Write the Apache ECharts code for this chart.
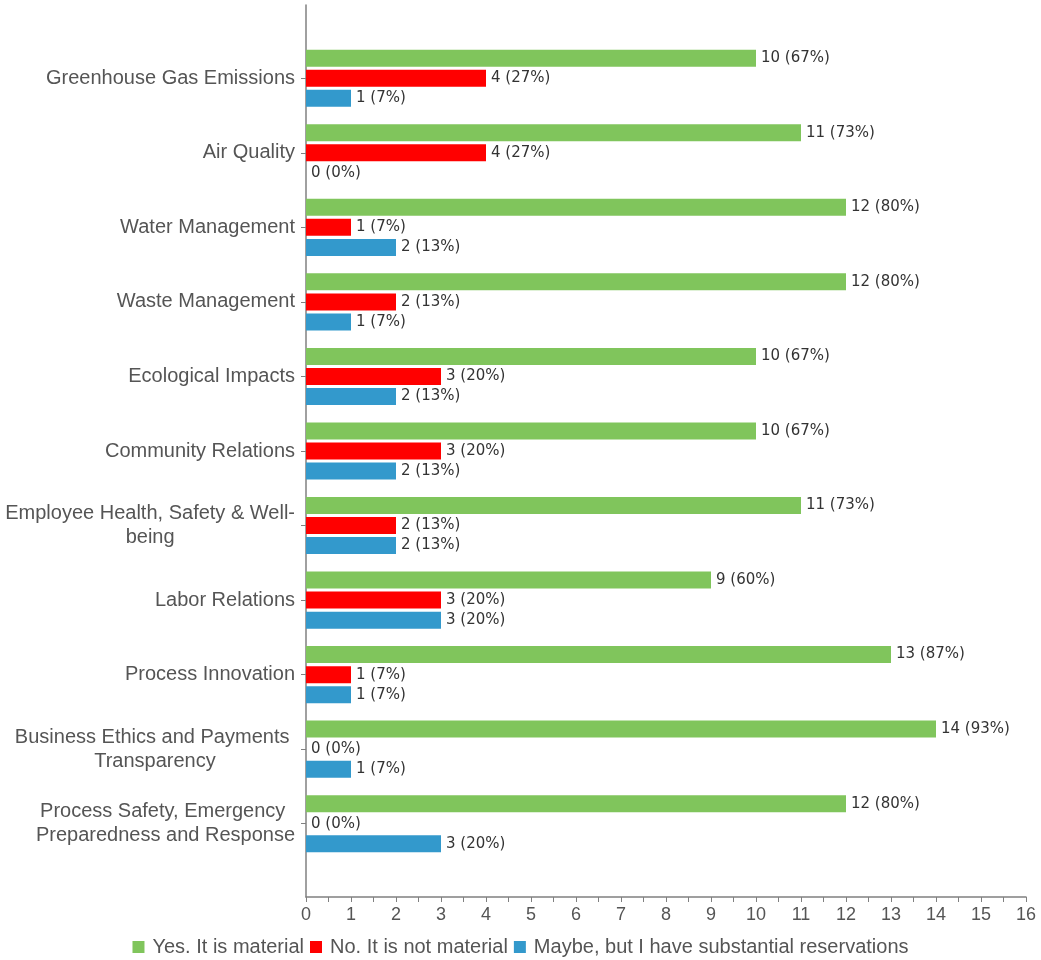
<!DOCTYPE html>
<html>
<head>
<meta charset="utf-8">
<script src="https://cdn.jsdelivr.net/npm/echarts@6/dist/echarts.min.js"></script>
<style>
html,body{margin:0;padding:0;background:#fff;}
#chart{width:1041px;height:960px;}
</style>
</head>
<body>
<div id="chart"></div>
<script>
const categories = [
  'Greenhouse Gas Emissions',
  'Air Quality',
  'Water Management',
  'Waste Management',
  'Ecological Impacts',
  'Community Relations',
  'Employee Health, Safety & Well-\nbeing',
  'Labor Relations',
  'Process Innovation',
  'Business Ethics and Payments \nTransparency',
  'Process Safety, Emergency \nPreparedness and Response'
];
const seriesNames = ['Yes. It is material', 'No. It is not material', 'Maybe, but I have substantial reservations'];
const yesValues   = [10, 11, 12, 12, 10, 10, 11, 9, 13, 14, 12];
const noValues    = [4, 4, 1, 2, 3, 3, 2, 3, 1, 0, 0];
const maybeValues = [1, 0, 2, 1, 2, 2, 2, 3, 1, 1, 3];
const respondents = 15;
const xMin = 0, xMax = 16, xStep = 1;
const colors = ['#80c55c', '#ff0000', '#3399cc'];

const chart = echarts.init(document.getElementById('chart'));
const sans = "'Liberation Sans', Arial, sans-serif";
const labelFont = "'DejaVu Sans', Verdana, sans-serif";

function makeSeries(name, data, color) {
  return {
    name: name,
    type: 'bar',
    xAxisIndex: 0,
    yAxisIndex: 0,
    data: data,
    barWidth: 17,
    barGap: '18%',
    itemStyle: { color: color },
    label: {
      show: true,
      position: 'right',
      distance: 5,
      fontFamily: labelFont,
      fontSize: 15,
      color: '#333',
      formatter: p => p.value + ' (' + Math.round(p.value / respondents * 100) + '%)'
    },
    emphasis: { disabled: true }
  };
}

const option = {
  animation: false,
  color: colors,
  grid: [
    { left: 306, right: 15, top: 41, bottom: 99, containLabel: false },
    { left: 306, right: 15, top: 5, bottom: 63, containLabel: false }
  ],
  xAxis: [
    { gridIndex: 0, type: 'value', min: xMin, max: xMax, interval: xStep, show: false },
    {
      gridIndex: 1, type: 'value', min: xMin, max: xMax, interval: xStep,
      axisLine: { show: true, lineStyle: { color: '#808080', width: 1.5 } },
      axisTick: { show: true, length: 5, lineStyle: { color: '#808080' } },
      minorTick: { show: true, splitNumber: 2, length: 5, lineStyle: { color: '#808080' } },
      splitLine: { show: false },
      axisLabel: { fontFamily: sans, fontSize: 18, color: '#555', margin: 9 }
    }
  ],
  yAxis: [
    {
      gridIndex: 0, type: 'category', data: categories, inverse: true,
      axisLine: { show: false },
      axisTick: { show: true, alignWithLabel: true, length: 5, lineStyle: { color: '#808080' } },
      axisLabel: {
        margin: 11,
        fontFamily: sans, fontSize: 20, color: '#555', lineHeight: 24,
        formatter: v => v.split('\n').map(s => '{c|' + s + '}').join('\n'),
        rich: { c: { align: 'center', fontFamily: sans, fontSize: 20, color: '#555', lineHeight: 24 } }
      }
    },
    {
      gridIndex: 1, type: 'value', min: 0, max: 1,
      axisLine: { show: true, lineStyle: { color: '#808080', width: 1.5 } },
      axisTick: { show: false }, axisLabel: { show: false }, splitLine: { show: false }
    }
  ],
  legend: {
    top: 932,
    left: 'center',
    icon: 'rect',
    itemWidth: 12,
    itemHeight: 12,
    itemGap: 6,
    textStyle: { fontFamily: sans, fontSize: 20, color: '#555', padding: [0, 0, 0, 3] },
    data: seriesNames
  },
  series: [
    makeSeries(seriesNames[0], yesValues, colors[0]),
    makeSeries(seriesNames[1], noValues, colors[1]),
    makeSeries(seriesNames[2], maybeValues, colors[2])
  ]
};
chart.setOption(option);
</script>
</body>
</html>
